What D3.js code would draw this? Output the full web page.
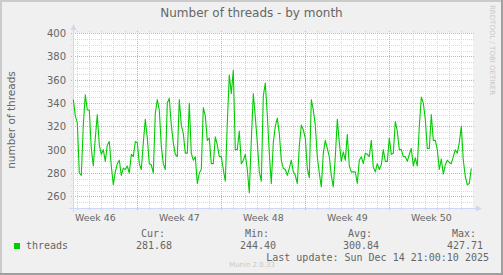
<!DOCTYPE html>
<html>
<head>
<meta charset="utf-8">
<script src="https://cdn.jsdelivr.net/npm/d3@7/dist/d3.min.js"></script>
<style>
  body { margin: 0; background: #f0f0f0; }
  svg { display: block; }
  text { font-family: "DejaVu Sans", sans-serif; fill: #666; }
  text.mono { font-family: "DejaVu Sans Mono", monospace; }
</style>
</head>
<body>
<svg id="chart" width="503" height="275"></svg>
<script>
// samples every 4 hours, starting Tue Nov 11 16:00
var startTime = new Date(2025, 10, 11, 16, 0),
    stepHours = 4;

var threads = [
  343, 329, 323, 280, 278, 321, 347, 334, 334, 301, 286, 310, 330, 304, 296, 300, 290,
  304, 307, 286, 270, 281, 288, 291, 278, 284, 283, 286, 280, 296, 294, 307, 306, 288,
  283, 306, 326, 310, 288, 287, 280, 331, 343, 334, 303, 288, 283, 340, 344, 321, 306,
  296, 294, 343, 321, 314, 297, 297, 340, 297, 291, 294, 271, 280, 283, 336, 329, 308,
  310, 288, 288, 311, 304, 294, 294, 283, 273, 323, 364, 348, 368, 300, 300, 316, 288,
  291, 296, 283, 263, 308, 348, 328, 306, 281, 273, 346, 357, 330, 297, 271, 306, 320,
  327, 314, 291, 284, 283, 278, 284, 291, 281, 278, 271, 303, 321, 317, 310, 284, 276,
  343, 334, 321, 294, 280, 268, 297, 308, 301, 294, 278, 268, 294, 326, 306, 290, 298,
  291, 313, 286, 281, 281, 281, 271, 291, 294, 288, 297, 296, 294, 308, 285, 281, 288,
  283, 287, 300, 290, 290, 310, 296, 297, 324, 316, 300, 300, 294, 294, 290, 296, 301,
  286, 293, 286, 320, 345, 340, 326, 301, 301, 330, 308, 308, 300, 283, 292, 279, 287,
  291, 289, 288, 294, 300, 297, 306, 320, 291, 277, 270, 271, 284
];

var yTicks = [260, 280, 300, 320, 340, 360, 380, 400];
var weekStarts = [new Date(2025, 10, 10), new Date(2025, 10, 17), new Date(2025, 10, 24),
                  new Date(2025, 11, 1), new Date(2025, 11, 8)];
var weekLabels = ['Week 46', 'Week 47', 'Week 48', 'Week 49', 'Week 50'];
var legendHeads = ['Cur:', 'Min:', 'Avg:', 'Max:'];
var legendValues = ['281.68', '244.40', '300.84', '427.71'];

var svg = d3.select('#chart'),
    x0 = 73, x1 = 473, yTop = 33, yBot = 208,
    H = 3600 * 1000;

var x = d3.scaleTime()
    .domain([new Date(2025, 10, 11, 15, 24), new Date(2025, 11, 14, 23, 24)])
    .range([x0, x1]);
var y = d3.scaleLinear().domain([250, 400]).range([yBot, yTop]);

function px(v) { return Math.round(v) + 0.5; }

// frame
svg.append('rect').attr('width', 503).attr('height', 275).attr('fill', '#f0f0f0');
svg.append('rect').attr('x', 0).attr('y', 0).attr('width', 503).attr('height', 2).attr('fill', '#cbcbcb');
svg.append('rect').attr('x', 0).attr('y', 0).attr('width', 2).attr('height', 275).attr('fill', '#cbcbcb');
svg.append('rect').attr('x', 0).attr('y', 273).attr('width', 503).attr('height', 2).attr('fill', '#9f9f9f');
svg.append('rect').attr('x', 501).attr('y', 0).attr('width', 2).attr('height', 275).attr('fill', '#9f9f9f');

// canvas
svg.append('rect').attr('x', x0).attr('y', yTop).attr('width', x1 - x0).attr('height', yBot - yTop)
  .attr('fill', '#fff');

var grid = svg.append('g').attr('stroke-width', 1).attr('stroke-dasharray', '1,1');

// minor horizontal (every 5)
var minorY = d3.range(255, 401, 5).filter(function(v) { return v % 20 != 0; });
grid.selectAll('line.hmin').data(minorY).enter().append('line')
  .attr('x1', x0 - 2).attr('x2', x1 + 2)
  .attr('y1', function(d) { return px(y(d)); }).attr('y2', function(d) { return px(y(d)); })
  .attr('stroke', '#dadada');

// minor vertical (days)
var days = d3.timeDay.range(x.domain()[0], x.domain()[1]).filter(function(d) { return d.getDay() != 1; });
grid.selectAll('line.vmin').data(days).enter().append('line')
  .attr('x1', function(d) { return px(x(d)); }).attr('x2', function(d) { return px(x(d)); })
  .attr('y1', yTop - 2).attr('y2', yBot + 2)
  .attr('stroke', '#d4d4d4');

// major
grid.selectAll('line.hmaj').data(yTicks).enter().append('line')
  .attr('x1', x0 - 2).attr('x2', x1 + 2)
  .attr('y1', function(d) { return px(y(d)); }).attr('y2', function(d) { return px(y(d)); })
  .attr('stroke', '#eda3a3');
var mondays = weekStarts.filter(function(d) { return d > x.domain()[0]; });
grid.selectAll('line.vmaj').data(mondays).enter().append('line')
  .attr('x1', function(d) { return px(x(d)); }).attr('x2', function(d) { return px(x(d)); })
  .attr('y1', yTop - 2).attr('y2', yBot + 2)
  .attr('stroke', '#eda3a3');

// axis lines + arrows
var axisCol = '#cfd6f8';
svg.append('line').attr('x1', x0 - 4).attr('x2', x1 + 4).attr('y1', px(yBot)).attr('y2', px(yBot))
  .attr('stroke', axisCol);
svg.append('line').attr('x1', px(x0)).attr('x2', px(x0)).attr('y1', yBot + 4).attr('y2', yTop - 4)
  .attr('stroke', axisCol);
svg.append('path').attr('fill', axisCol)
  .attr('d', 'M' + (x1 + 3) + ',' + (yBot - 2.5) + 'L' + (x1 + 3) + ',' + (yBot + 3.5) + 'L' + (x1 + 9) + ',' + (yBot + 0.5) + 'Z');
svg.append('path').attr('fill', axisCol)
  .attr('d', 'M' + (x0 - 2.5) + ',' + (yTop - 3) + 'L' + (x0 + 3.5) + ',' + (yTop - 3) + 'L' + (x0 + 0.5) + ',' + (yTop - 9) + 'Z');

// y labels
svg.selectAll('text.ylab').data(yTicks).enter().append('text')
  .attr('x', 66).attr('y', function(d) { return y(d) + 4; })
  .attr('text-anchor', 'end').attr('font-size', 10)
  .text(function(d) { return d; });

// week labels, centered in each week
svg.selectAll('text.xlab').data(weekStarts).enter().append('text')
  .attr('x', function(d) { return x(d3.timeHour.offset(d, 84)); })
  .attr('y', 221).attr('text-anchor', 'middle').attr('font-size', 9.4)
  .text(function(d, i) { return weekLabels[i]; });

// series
var line = d3.line()
  .x(function(d, i) { return x(new Date(startTime.getTime() + i * stepHours * H)); })
  .y(function(d) { return y(d); });
svg.append('path').datum(threads)
  .attr('d', line).attr('fill', 'none')
  .attr('stroke', '#00cc00').attr('stroke-width', 1.1).attr('stroke-linejoin', 'round');

// titles
svg.append('text').attr('x', 251.5).attr('y', 17).attr('text-anchor', 'middle')
  .attr('font-size', 12).attr('fill', '#555').text('Number of threads - by month');
svg.append('text').attr('transform', 'translate(15,120) rotate(-90)')
  .attr('text-anchor', 'middle').attr('font-size', 10.5).text('number of threads');
svg.append('text').attr('transform', 'translate(490,5) rotate(90)')
  .attr('font-size', 7).style('fill', '#c8c8c8').text('RRDTOOL / TOBI OETIKER');

// legend
svg.append('rect').attr('x', 14).attr('y', 243).attr('width', 6).attr('height', 6).attr('fill', '#00cc00');
svg.append('text').attr('class', 'mono').attr('x', 26).attr('y', 249).attr('font-size', 10).text('threads');
var cols = [172, 276, 379, 483];
svg.selectAll('text.lh').data(legendHeads).enter().append('text')
  .attr('class', 'mono').attr('x', function(d, i) { return cols[i] - 7; }).attr('y', 237)
  .attr('text-anchor', 'end').attr('font-size', 10).text(function(d) { return d; });
svg.selectAll('text.lv').data(legendValues).enter().append('text')
  .attr('class', 'mono').attr('x', function(d, i) { return cols[i]; }).attr('y', 249)
  .attr('text-anchor', 'end').attr('font-size', 10).text(function(d) { return d; });
svg.append('text').attr('class', 'mono').attr('x', 489).attr('y', 261)
  .attr('text-anchor', 'end').attr('font-size', 10).text('Last update: Sun Dec 14 21:00:10 2025');
svg.append('text').attr('x', 252).attr('y', 267).attr('text-anchor', 'middle')
  .attr('font-size', 7).style('fill', '#c8c8c8').text('Munin 2.0.33');
</script>
</body>
</html>
